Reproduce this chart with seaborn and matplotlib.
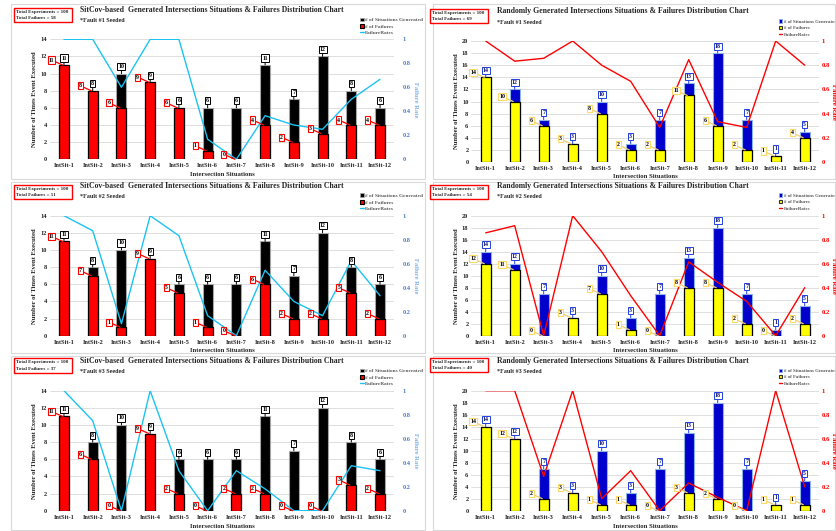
import numpy as np
import pandas as pd
import matplotlib
matplotlib.use("Agg")
import matplotlib.pyplot as plt
import seaborn as sns
from matplotlib.patches import Rectangle, Patch
from matplotlib.lines import Line2D

# ---------------- data ----------------
categories = ["IntSit-1", "IntSit-2", "IntSit-3", "IntSit-4", "IntSit-5", "IntSit-6",
              "IntSit-7", "IntSit-8", "IntSit-9", "IntSit-10", "IntSit-11", "IntSit-12"]

sitcov_situations = [11, 8, 10, 9, 6, 6, 6, 11, 7, 12, 8, 6]
sitcov_failures_f1 = [11, 8, 6, 9, 6, 1, 0, 4, 2, 3, 4, 4]
sitcov_failures_f2 = [11, 7, 1, 9, 5, 1, 0, 6, 2, 2, 5, 2]
sitcov_failures_f3 = [11, 6, 0, 9, 2, 0, 2, 2, 0, 0, 3, 2]

random_situations = [14, 12, 7, 3, 10, 3, 7, 13, 18, 7, 1, 5]
random_failures_f1 = [14, 10, 6, 3, 8, 2, 2, 11, 6, 2, 1, 4]
random_failures_f2 = [12, 11, 0, 3, 7, 1, 0, 8, 8, 2, 0, 2]
random_failures_f3 = [14, 12, 2, 3, 1, 1, 0, 3, 2, 0, 1, 1]

total_experiments = 100
sitcov_title = "SitCov-based  Generated Intersections Situations & Failures Distribution Chart"
random_title = "Randomly Generated Intersections Situations & Failures Distribution Chart"
legend_labels = ["# of Situations Generated", "# of Failures", "FailureRates"]
x_label = "Intersection Situations"
y_label = "Number of Times Event Executed"
y2_label = "Failure Rate"

# ---------------- style ----------------
sns.set_theme(style="white")
plt.rcParams["font.family"] = ["Liberation Serif", "DejaVu Serif"]
plt.rcParams["font.weight"] = "bold"

W, H = 836, 531
fig = plt.figure(figsize=(W / 100, H / 100), dpi=100)
fig.patch.set_facecolor("white")


def rect(x0, y0, x1, y1):
    return [x0 / W, 1 - y1 / H, (x1 - x0) / W, (y1 - y0) / H]


def fx(x):
    return x / W


def fy(y):
    return 1 - y / H


PT = 72 / 100.0  # points per pixel

col_geo = {
    0: dict(ax_x=(49.6, 394.4), border=(11, 425), box_x=(14, 72), title_x=80,
            leg_x=360, ylab_x=34, y2lab_x=416),
    1: dict(ax_x=(471.2, 819.2), border=(433, 835), box_x=(430, 488), title_x=497,
            leg_x=779, ylab_x=457, y2lab_x=833),
}
row_geo = {
    0: dict(ax_y={0: (39.3, 159.3), 1: (41, 162)}, border=(4, 179),
            title_y={0: 9.5, 1: 11}, box_y={0: (8, 21.5), 1: (9, 23)},
            fault_y={0: 20, 1: 22}, leg_y={0: 17.5, 1: 19.5}, xlab_y={0: 174, 1: 176}),
    1: dict(ax_y={0: (215.7, 335.7), 1: (215.7, 335.7)}, border=(182, 353),
            title_y={0: 186.5, 1: 186.5}, box_y={0: (185, 199), 1: (185, 199)},
            fault_y={0: 196.5, 1: 196.5}, leg_y={0: 193.5, 1: 193.5}, xlab_y={0: 351, 1: 351}),
    2: dict(ax_y={0: (390.7, 510.7), 1: (390.7, 510.7)}, border=(356, 530),
            title_y={0: 361, 1: 361}, box_y={0: (358, 373), 1: (358, 372)},
            fault_y={0: 371.5, 1: 371.5}, leg_y={0: 368.5, 1: 368.5}, xlab_y={0: 526, 1: 526}),
}

panels = [
    (0, 0, "sitcov", 1, sitcov_situations, sitcov_failures_f1),
    (0, 1, "random", 1, random_situations, random_failures_f1),
    (1, 0, "sitcov", 2, sitcov_situations, sitcov_failures_f2),
    (1, 1, "random", 2, random_situations, random_failures_f2),
    (2, 0, "sitcov", 3, sitcov_situations, sitcov_failures_f3),
    (2, 1, "random", 3, random_situations, random_failures_f3),
]

for row, col, kind, fault, sits, fails in panels:
    cg, rg = col_geo[col], row_geo[row]
    sitcov = kind == "sitcov"
    if sitcov:
        sit_color, sit_edge = "#000000", "#A6A6A6"
        fail_color, fail_edge = "#FF0000", "#000000"
        line_color = "#1CC3F2"
        sit_lab_ec, sit_lab_line = "#000000", "#000000"
        fail_lab_ec, fail_lab_line = "#FF0000", "#FF0000"
        y2_color = "#4A7BC8"
        ymax = 14
        title = sitcov_title
    else:
        sit_color, sit_edge = "#0000CC", "#8DB4E2"
        fail_color, fail_edge = "#FFFF00", "#000000"
        line_color = "#FF0000"
        sit_lab_ec, sit_lab_line = "#1F3FE0", "#1F3FE0"
        fail_lab_ec, fail_lab_line = "#FFD966", "#F2CC70"
        y2_color = "#FF0000"
        ymax = 20
        title = random_title

    # panel border
    fig.patches.append(Rectangle((fx(cg["border"][0]), fy(rg["border"][1])),
                                 (cg["border"][1] - cg["border"][0]) / W,
                                 (rg["border"][1] - rg["border"][0]) / H,
                                 transform=fig.transFigure, fill=False,
                                 ec="#D9D9D9", lw=0.8, zorder=0))

    y0, y1 = rg["ax_y"][col]
    ax = fig.add_axes(rect(cg["ax_x"][0], y0, cg["ax_x"][1], y1))
    ax.set_facecolor("none")

    df = pd.DataFrame({"cat": categories, "sit": sits, "fail": fails})
    df["rate"] = df["fail"] / df["sit"]

    sns.barplot(data=df, x="cat", y="sit", color=sit_color, saturation=1, width=0.35,
                edgecolor=sit_edge, linewidth=0.8, ax=ax, zorder=2)
    sns.barplot(data=df, x="cat", y="fail", color=fail_color, saturation=1, width=0.35,
                edgecolor=fail_edge, linewidth=0.9, ax=ax, zorder=3)

    ax.set_ylim(0, ymax)
    ax.set_yticks(np.arange(0, ymax + 1, 2))
    ax.set_xlim(-0.5, 11.5)
    ax.grid(axis="y", color="#D9D9D9", lw=0.6, zorder=0)
    ax.set_axisbelow(True)
    for s in ax.spines.values():
        s.set_visible(False)
    ax.tick_params(axis="both", length=0, labelsize=4.6, pad=2)
    ax.tick_params(axis="x", pad=3)
    for t in ax.get_xticklabels() + ax.get_yticklabels():
        t.set_fontweight("bold")
    ax.set_xlabel("")
    ax.set_ylabel("")

    # rate line on secondary axis
    ax2 = ax.twinx()
    sns.lineplot(x=np.arange(len(categories)), y=df["rate"].values, color=line_color,
                 lw=1.0, ax=ax2)
    ax2.set_ylim(0, 1)
    ax2.set_yticks([0, 0.2, 0.4, 0.6, 0.8, 1.0])
    ax2.set_yticklabels(["0", "0.2", "0.4", "0.6", "0.8", "1"])
    ax2.set_xlim(-0.5, 11.5)
    for s in ax2.spines.values():
        s.set_visible(False)
    ax2.tick_params(axis="y", length=0, labelsize=4.6 if sitcov else 4.8,
                    labelcolor=y2_color, pad=6 if sitcov else 1.5)
    for t in ax2.get_yticklabels():
        t.set_fontweight("bold")
    ax2.grid(False)

    # data labels
    for i, (s_v, f_v) in enumerate(zip(sits, fails)):
        ax2.annotate(str(s_v), xy=(i, s_v / ymax), xytext=(0, 7 * PT),
                     textcoords="offset points", ha="center", va="center",
                     fontsize=4.2, fontweight="bold", color="black" if sitcov else "#10106A",
                     bbox=dict(boxstyle="square,pad=0.18", fc="white", ec=sit_lab_ec, lw=0.7),
                     arrowprops=dict(arrowstyle="-", color=sit_lab_line, lw=0.7,
                                     shrinkA=0, shrinkB=0), zorder=6)
        ax2.annotate(str(f_v), xy=(i - 0.05, f_v / ymax), xytext=(-11 * PT, 5 * PT),
                     textcoords="offset points", ha="center", va="center",
                     fontsize=4.2, fontweight="bold", color="black",
                     bbox=dict(boxstyle="square,pad=0.18", fc="white", ec=fail_lab_ec, lw=0.8),
                     arrowprops=dict(arrowstyle="-", color=fail_lab_line, lw=0.9,
                                     shrinkA=0, shrinkB=0), zorder=6)

    # axis labels
    xm = (cg["ax_x"][0] + cg["ax_x"][1]) / 2
    fig.text(fx(xm), fy(rg["xlab_y"][col]), x_label, ha="center", va="center",
             fontsize=4.8, fontweight="bold")
    fig.text(fx(cg["ylab_x"]), fy((y0 + y1) / 2), y_label, ha="center", va="center",
             rotation=90, fontsize=4.8, fontweight="bold")
    fig.text(fx(cg["y2lab_x"]), fy((y0 + y1) / 2), y2_label, ha="center", va="center",
             rotation=270, fontsize=4.8 if sitcov else 4.9, fontweight="bold",
             color="#7FB2E6" if sitcov else "#FF0000")

    # title, fault note, totals box
    fig.text(fx(cg["title_x"]), fy(rg["title_y"][col]), title, ha="left", va="center",
             fontsize=5.6, fontweight="bold", color="#262626")
    fig.text(fx(cg["title_x"]), fy(rg["fault_y"][col]), f"*Fault #{fault} Seeded",
             ha="left", va="center", fontsize=4.4, fontweight="bold", color="#262626")
    bx0, bx1 = cg["box_x"]
    by0, by1 = rg["box_y"][col]
    fig.patches.append(Rectangle((fx(bx0), fy(by1)), (bx1 - bx0) / W, (by1 - by0) / H,
                                 transform=fig.transFigure, fill=True, fc="white",
                                 ec="#FF0000", lw=1.0, zorder=1))
    fig.text(fx(bx0 + 2), fy(by0 + (by1 - by0) * 0.3),
             f"Total Experiments = {total_experiments}", ha="left", va="center",
             fontsize=3.6, fontweight="bold")
    fig.text(fx(bx0 + 2), fy(by0 + (by1 - by0) * 0.72),
             f"Total Failures = {sum(fails)}", ha="left", va="center",
             fontsize=3.6, fontweight="bold")

    # legend
    handles = [Patch(fc=sit_color, ec=sit_edge, lw=0.5),
               Patch(fc=fail_color, ec="black" if sitcov else "#333333", lw=0.8),
               Line2D([], [], color=line_color, lw=1.0)]
    leg = ax2.legend(handles, legend_labels, loc="upper left",
                     bbox_to_anchor=(fx(cg["leg_x"]), fy(rg["leg_y"][col])),
                     bbox_transform=fig.transFigure, frameon=False,
                     fontsize=3.8 if sitcov else 3.5,
                     handlelength=0.7, handleheight=0.7, handletextpad=0.3,
                     labelspacing=0.35 if sitcov else 0.45, borderpad=0, borderaxespad=0,
                     labelcolor="#595959")

fig.savefig("out.png", dpi=100, facecolor="white")
